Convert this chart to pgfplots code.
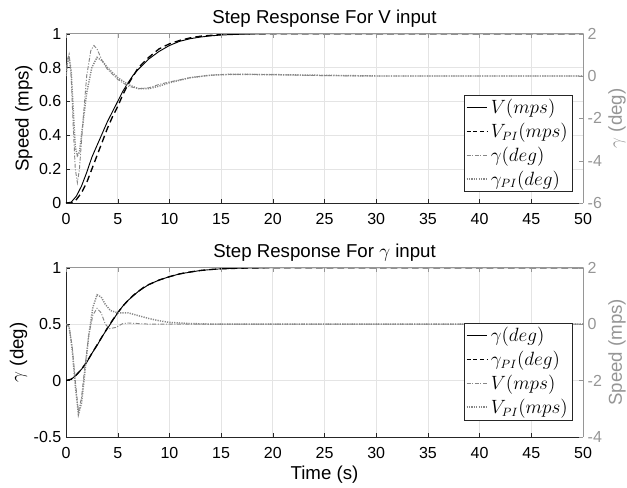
\documentclass[border=0pt]{standalone}
\usepackage{pgfplots}
\pgfplotsset{compat=1.18}
\usepackage{fontspec}
\setmainfont{Liberation Sans}

\definecolor{axgray}{RGB}{150,150,150}
\definecolor{dkgray}{RGB}{38,38,38}
\definecolor{gridgray}{RGB}{228,228,228}
\definecolor{sgray}{RGB}{135,135,135}

\newcommand{\fs}{\fontsize{12}{14}\selectfont}
\newcommand{\fl}{\fontsize{14}{16}\selectfont}
\newcommand{\fg}{\fontsize{13.5}{15}\selectfont}

\pgfplotsset{
  base/.style={
    width=387.75pt, height=127pt, scale only axis,
    xmin=0, xmax=50, xtick={0,5,...,50},
    tick align=inside, major tick length=3pt,
    /pgf/number format/assume math mode=true,
    tick label style={font=\fs},
    label style={font=\fl},
    title style={font=\fl, yshift=-5pt},
  },
  leftax/.style={
    base,
    axis y line*=left, axis x line*=bottom,
    xmajorgrids, ymajorgrids, grid style={gridgray, line width=0.5pt},
    axis line style={dkgray}, tick style={dkgray},
    xticklabel style={yshift=-4pt},
    ylabel style={yshift=-2pt},
    xlabel style={yshift=1pt},
  },
  rightax/.style={
    base,
    axis y line*=right, axis x line*=top,
    xticklabels={},
    axis line style={axgray}, tick style={axgray},
    yticklabel style={axgray}, ylabel style={axgray, yshift=2pt},
    legend style={font=\fg, draw=dkgray, fill=white, inner sep=1.5pt,
      row sep=1.5pt, cells={anchor=west}},
    legend image code/.code={\draw[#1] (0cm,0cm) -- (0.55cm,0cm);},
  },
  dashdot/.style={sgray, line width=0.7pt, dash pattern=on 3pt off 1.2pt on 0.8pt off 1.2pt},
  dots/.style={sgray, line width=1.1pt, dash pattern=on 0.9pt off 0.9pt},
}

\begin{document}
\begin{tikzpicture}
\path[use as bounding box] (-49.5pt,-38.25pt) rectangle (420.75pt,327.75pt);

% ---------- top: step response for V input ----------
\begin{axis}[leftax, at={(0,175.5pt)}, anchor=south west,
  ymin=0, ymax=1, ytick={0,0.2,...,1},
  yticklabels={0,0.2,0.4,0.6,0.8,1},
  ylabel={Speed (mps)},
  title={Step Response For V input}]
\addplot[black, line width=0.7pt] coordinates {
(0,0)(0.5,0.005)(1,0.04)(1.5,0.1)(2,0.18)(2.5,0.27)(3,0.34)(3.5,0.41)(4,0.48)
(4.5,0.54)(5,0.6)(5.5,0.66)(6,0.71)(6.5,0.755)(7,0.79)(7.5,0.82)(8,0.85)
(9,0.895)(10,0.93)(11,0.955)(12,0.97)(13,0.98)(14,0.987)(15,0.992)(17,0.997)
(20,1)(50,1)};
\addplot[black, line width=1pt, dash pattern=on 5pt off 3pt] coordinates {
(0,0)(0.5,0)(1,0.02)(1.5,0.06)(2,0.12)(2.5,0.2)(3,0.28)(3.5,0.36)(4,0.44)
(4.5,0.51)(5,0.57)(5.5,0.64)(6,0.7)(6.5,0.75)(7,0.8)(7.5,0.83)(8,0.86)
(9,0.91)(10,0.94)(11,0.96)(12,0.975)(13,0.985)(15,0.995)(17,1)(50,1)};
\end{axis}

\begin{axis}[rightax, at={(0,175.5pt)}, anchor=south west,
  ymin=-6, ymax=2, ytick={-6,-4,...,2},
  ylabel={$\gamma$ (deg)},
  legend style={at={(rel axis cs:0.98,0.065)}, anchor=south east}]
\addlegendimage{black, line width=0.7pt}
\addlegendentry{$V(mps)$}
\addlegendimage{black, line width=1pt, dash pattern=on 3pt off 2pt}
\addlegendentry{$V_{PI}(mps)$}
\addplot[dashdot] coordinates {
(0,0)(0.15,0.8)(0.3,1.04)(0.5,0)(0.7,-2.4)(0.9,-4.4)(1.1,-5.04)(1.3,-4.4)
(1.6,-2.4)(2,0)(2.4,1.2)(2.7,1.44)(3,1.28)(3.5,0.72)(4,0.32)(5,-0.16)(6,-0.48)
(7,-0.6)(8,-0.56)(9,-0.4)(10,-0.28)(12,-0.08)(14,0.04)(16,0.08)(18,0.08)
(20,0.064)(25,0.016)(30,0)(50,0)};
\addlegendentry{$\gamma(deg)$}
\addplot[dots] coordinates {
(0,0)(0.15,0.64)(0.3,0.88)(0.5,0.24)(0.7,-1.6)(0.9,-3.36)(1.1,-3.76)(1.3,-3.6)
(1.6,-2.4)(2,-0.8)(2.5,0.4)(3,0.88)(3.5,0.72)(4,0.4)(5,-0.08)(6,-0.4)(7,-0.6)
(8,-0.6)(9,-0.48)(10,-0.32)(12,-0.08)(14,0.04)(16,0.08)(20,0.064)(30,0)(50,0)};
\addlegendentry{$\gamma_{PI}(deg)$}
\node[axgray, font=\fs, anchor=south west, inner sep=0pt] at (rel axis cs:1,1) [yshift=6pt, xshift=-3pt] {$\times$10\textsuperscript{-3}};
\end{axis}

% ---------- bottom: step response for gamma input ----------
\begin{axis}[leftax, at={(0,0)}, anchor=south west,
  ymin=-0.5, ymax=1, ytick={-0.5,0,0.5,1},
  yticklabels={-0.5,0,0.5,1},
  ylabel={$\gamma$ (deg)},
  xlabel={Time (s)},
  title={Step Response For $\gamma$ input}]
\addplot[black, line width=0.7pt] coordinates {
(0,0)(0.5,0.01)(1,0.05)(1.5,0.1)(2,0.16)(2.5,0.24)(3,0.31)(3.5,0.39)(4,0.46)
(4.5,0.53)(5,0.6)(5.5,0.66)(6,0.71)(6.5,0.75)(7,0.79)(7.5,0.82)(8,0.85)
(9,0.89)(10,0.92)(11,0.945)(12,0.96)(13,0.975)(14,0.983)(15,0.99)(17,0.996)
(20,1)(50,1)};
\addplot[black, line width=1pt, dash pattern=on 5pt off 3pt] coordinates {
(0,0)(0.5,0.012)(1,0.05)(1.5,0.1)(2,0.165)(2.5,0.24)(3,0.315)(3.5,0.39)(4,0.465)
(4.5,0.535)(5,0.6)(5.5,0.66)(6,0.71)(6.5,0.755)(7,0.79)(7.5,0.825)(8,0.85)
(9,0.89)(10,0.92)(11,0.945)(12,0.962)(13,0.975)(14,0.984)(15,0.99)(17,0.996)
(20,1)(50,1)};
\end{axis}

\begin{axis}[rightax, at={(0,0)}, anchor=south west,
  ymin=-4, ymax=2, ytick={-4,-2,0,2},
  ylabel={Speed (mps)},
  legend style={at={(rel axis cs:0.98,0.1)}, anchor=south east}]
\addlegendimage{black, line width=0.7pt}
\addlegendentry{$\gamma(deg)$}
\addlegendimage{black, line width=1pt, dash pattern=on 3pt off 2pt}
\addlegendentry{$\gamma_{PI}(deg)$}
\addplot[dashdot] coordinates {
(0,0)(0.3,-0.08)(0.6,-0.8)(0.9,-2)(1.2,-3.12)(1.5,-2.6)(1.8,-1.6)(2.2,-0.4)
(2.6,0.32)(3,0.56)(3.4,0.4)(3.8,0)(4.2,-0.16)(4.8,-0.12)(5.5,0.02)(6,0.04)
(7,0.02)(8,0)(50,0)};
\addlegendentry{$V(mps)$}
\addplot[dots] coordinates {
(0,0)(0.3,-0.1)(0.6,-0.9)(0.9,-2.2)(1.2,-3.2)(1.5,-2.8)(1.8,-1.8)(2.2,-0.4)
(2.6,0.6)(3,1.04)(3.4,0.96)(3.8,0.7)(4.3,0.48)(5,0.4)(5.5,0.4)(6,0.4)(7,0.3)
(8,0.2)(9,0.12)(10,0.06)(12,0.02)(14,0)(50,0)};
\addlegendentry{$V_{PI}(mps)$}
\node[axgray, font=\fs, anchor=south west, inner sep=0pt] at (rel axis cs:1,1) [yshift=6pt, xshift=-3pt] {$\times$10\textsuperscript{-3}};
\end{axis}
\end{tikzpicture}
\end{document}
